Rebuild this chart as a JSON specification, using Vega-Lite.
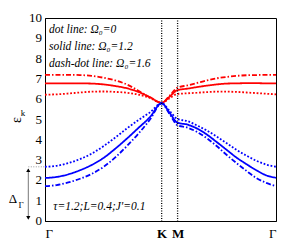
{
  "$schema": "https://vega.github.io/schema/vega-lite/v6.json",
  "width": 231,
  "height": 203,
  "autosize": {"type": "none"},
  "padding": {"left": 45, "top": 18, "right": 29, "bottom": 28},
  "config": {
    "view": {"stroke": "#000000", "strokeWidth": 1},
    "axis": {"grid": false, "domainColor": "#000000", "tickColor": "#000000", "labelColor": "#000000", "labelFont": "Liberation Serif", "titleFont": "Liberation Serif"}
  },
  "datasets": {
    "curves": [
      {"s":"u16","band":"up","om":"1.6","x":0,"y":7.2},{"s":"u16","band":"up","om":"1.6","x":0.0505,"y":7.2},{"s":"u16","band":"up","om":"1.6","x":0.101,"y":7.2},{"s":"u16","band":"up","om":"1.6","x":0.1515,"y":7.19},{"s":"u16","band":"up","om":"1.6","x":0.202,"y":7.15},{"s":"u16","band":"up","om":"1.6","x":0.2525,"y":7.06},{"s":"u16","band":"up","om":"1.6","x":0.303,"y":6.93},{"s":"u16","band":"up","om":"1.6","x":0.3535,"y":6.73},{"s":"u16","band":"up","om":"1.6","x":0.404,"y":6.42},{"s":"u16","band":"up","om":"1.6","x":0.4545,"y":6.08},{"s":"u16","band":"up","om":"1.6","x":0.505,"y":5.82},
      {"s":"u16","band":"up","om":"1.6","x":0.54,"y":6.18},
      {"s":"u16","band":"up","om":"1.6","x":0.574,"y":6.57},{"s":"u16","band":"up","om":"1.6","x":0.6166,"y":6.68},{"s":"u16","band":"up","om":"1.6","x":0.6592,"y":6.8},{"s":"u16","band":"up","om":"1.6","x":0.7018,"y":6.93},{"s":"u16","band":"up","om":"1.6","x":0.7444,"y":7.03},{"s":"u16","band":"up","om":"1.6","x":0.787,"y":7.1},{"s":"u16","band":"up","om":"1.6","x":0.8296,"y":7.15},{"s":"u16","band":"up","om":"1.6","x":0.8722,"y":7.18},{"s":"u16","band":"up","om":"1.6","x":0.9148,"y":7.19},{"s":"u16","band":"up","om":"1.6","x":0.9574,"y":7.2},{"s":"u16","band":"up","om":"1.6","x":1,"y":7.2},

      {"s":"u12","band":"up","om":"1.2","x":0,"y":6.78},{"s":"u12","band":"up","om":"1.2","x":0.0505,"y":6.78},{"s":"u12","band":"up","om":"1.2","x":0.101,"y":6.78},{"s":"u12","band":"up","om":"1.2","x":0.1515,"y":6.78},{"s":"u12","band":"up","om":"1.2","x":0.202,"y":6.77},{"s":"u12","band":"up","om":"1.2","x":0.2525,"y":6.73},{"s":"u12","band":"up","om":"1.2","x":0.303,"y":6.65},{"s":"u12","band":"up","om":"1.2","x":0.3535,"y":6.54},{"s":"u12","band":"up","om":"1.2","x":0.404,"y":6.36},{"s":"u12","band":"up","om":"1.2","x":0.4545,"y":6.1},{"s":"u12","band":"up","om":"1.2","x":0.505,"y":5.82},
      {"s":"u12","band":"up","om":"1.2","x":0.54,"y":6.13},
      {"s":"u12","band":"up","om":"1.2","x":0.574,"y":6.45},{"s":"u12","band":"up","om":"1.2","x":0.6166,"y":6.52},{"s":"u12","band":"up","om":"1.2","x":0.6592,"y":6.6},{"s":"u12","band":"up","om":"1.2","x":0.7018,"y":6.67},{"s":"u12","band":"up","om":"1.2","x":0.7444,"y":6.73},{"s":"u12","band":"up","om":"1.2","x":0.787,"y":6.77},{"s":"u12","band":"up","om":"1.2","x":0.8296,"y":6.78},{"s":"u12","band":"up","om":"1.2","x":0.8722,"y":6.79},{"s":"u12","band":"up","om":"1.2","x":0.9148,"y":6.79},{"s":"u12","band":"up","om":"1.2","x":0.9574,"y":6.78},{"s":"u12","band":"up","om":"1.2","x":1,"y":6.78},

      {"s":"u0","band":"up","om":"0","x":0,"y":6.22},{"s":"u0","band":"up","om":"0","x":0.0505,"y":6.24},{"s":"u0","band":"up","om":"0","x":0.101,"y":6.28},{"s":"u0","band":"up","om":"0","x":0.1515,"y":6.33},{"s":"u0","band":"up","om":"0","x":0.202,"y":6.37},{"s":"u0","band":"up","om":"0","x":0.2525,"y":6.38},{"s":"u0","band":"up","om":"0","x":0.303,"y":6.36},{"s":"u0","band":"up","om":"0","x":0.3535,"y":6.32},{"s":"u0","band":"up","om":"0","x":0.404,"y":6.23},{"s":"u0","band":"up","om":"0","x":0.4545,"y":6.06},{"s":"u0","band":"up","om":"0","x":0.505,"y":5.82},
      {"s":"u0","band":"up","om":"0","x":0.54,"y":6.05},
      {"s":"u0","band":"up","om":"0","x":0.574,"y":6.26},{"s":"u0","band":"up","om":"0","x":0.6166,"y":6.29},{"s":"u0","band":"up","om":"0","x":0.6592,"y":6.32},{"s":"u0","band":"up","om":"0","x":0.7018,"y":6.35},{"s":"u0","band":"up","om":"0","x":0.7444,"y":6.37},{"s":"u0","band":"up","om":"0","x":0.787,"y":6.37},{"s":"u0","band":"up","om":"0","x":0.8296,"y":6.36},{"s":"u0","band":"up","om":"0","x":0.8722,"y":6.33},{"s":"u0","band":"up","om":"0","x":0.9148,"y":6.3},{"s":"u0","band":"up","om":"0","x":0.9574,"y":6.27},{"s":"u0","band":"up","om":"0","x":1,"y":6.24},

      {"s":"l0","band":"lo","om":"0","x":0,"y":2.67},{"s":"l0","band":"lo","om":"0","x":0.0505,"y":2.72},{"s":"l0","band":"lo","om":"0","x":0.101,"y":2.85},{"s":"l0","band":"lo","om":"0","x":0.1515,"y":3.05},{"s":"l0","band":"lo","om":"0","x":0.202,"y":3.32},{"s":"l0","band":"lo","om":"0","x":0.2525,"y":3.68},{"s":"l0","band":"lo","om":"0","x":0.303,"y":4.1},{"s":"l0","band":"lo","om":"0","x":0.3535,"y":4.55},{"s":"l0","band":"lo","om":"0","x":0.404,"y":4.97},{"s":"l0","band":"lo","om":"0","x":0.4545,"y":5.35},{"s":"l0","band":"lo","om":"0","x":0.505,"y":5.8},
      {"s":"l0","band":"lo","om":"0","x":0.54,"y":5.42},
      {"s":"l0","band":"lo","om":"0","x":0.574,"y":5.02},{"s":"l0","band":"lo","om":"0","x":0.6166,"y":4.92},{"s":"l0","band":"lo","om":"0","x":0.6592,"y":4.7},{"s":"l0","band":"lo","om":"0","x":0.7018,"y":4.45},{"s":"l0","band":"lo","om":"0","x":0.7444,"y":4.15},{"s":"l0","band":"lo","om":"0","x":0.787,"y":3.83},{"s":"l0","band":"lo","om":"0","x":0.8296,"y":3.5},{"s":"l0","band":"lo","om":"0","x":0.8722,"y":3.22},{"s":"l0","band":"lo","om":"0","x":0.9148,"y":2.97},{"s":"l0","band":"lo","om":"0","x":0.9574,"y":2.78},{"s":"l0","band":"lo","om":"0","x":1,"y":2.67},

      {"s":"l12","band":"lo","om":"1.2","x":0,"y":2.12},{"s":"l12","band":"lo","om":"1.2","x":0.0505,"y":2.17},{"s":"l12","band":"lo","om":"1.2","x":0.101,"y":2.3},{"s":"l12","band":"lo","om":"1.2","x":0.1515,"y":2.5},{"s":"l12","band":"lo","om":"1.2","x":0.202,"y":2.76},{"s":"l12","band":"lo","om":"1.2","x":0.2525,"y":3.1},{"s":"l12","band":"lo","om":"1.2","x":0.303,"y":3.55},{"s":"l12","band":"lo","om":"1.2","x":0.3535,"y":4.05},{"s":"l12","band":"lo","om":"1.2","x":0.404,"y":4.58},{"s":"l12","band":"lo","om":"1.2","x":0.4545,"y":5.12},{"s":"l12","band":"lo","om":"1.2","x":0.505,"y":5.8},
      {"s":"l12","band":"lo","om":"1.2","x":0.54,"y":5.32},
      {"s":"l12","band":"lo","om":"1.2","x":0.574,"y":4.84},{"s":"l12","band":"lo","om":"1.2","x":0.6166,"y":4.75},{"s":"l12","band":"lo","om":"1.2","x":0.6592,"y":4.55},{"s":"l12","band":"lo","om":"1.2","x":0.7018,"y":4.25},{"s":"l12","band":"lo","om":"1.2","x":0.7444,"y":3.88},{"s":"l12","band":"lo","om":"1.2","x":0.787,"y":3.5},{"s":"l12","band":"lo","om":"1.2","x":0.8296,"y":3.12},{"s":"l12","band":"lo","om":"1.2","x":0.8722,"y":2.8},{"s":"l12","band":"lo","om":"1.2","x":0.9148,"y":2.5},{"s":"l12","band":"lo","om":"1.2","x":0.9574,"y":2.25},{"s":"l12","band":"lo","om":"1.2","x":1,"y":2.13},

      {"s":"l16","band":"lo","om":"1.6","x":0,"y":1.72},{"s":"l16","band":"lo","om":"1.6","x":0.0505,"y":1.77},{"s":"l16","band":"lo","om":"1.6","x":0.101,"y":1.9},{"s":"l16","band":"lo","om":"1.6","x":0.1515,"y":2.08},{"s":"l16","band":"lo","om":"1.6","x":0.202,"y":2.32},{"s":"l16","band":"lo","om":"1.6","x":0.2525,"y":2.66},{"s":"l16","band":"lo","om":"1.6","x":0.303,"y":3.12},{"s":"l16","band":"lo","om":"1.6","x":0.3535,"y":3.68},{"s":"l16","band":"lo","om":"1.6","x":0.404,"y":4.3},{"s":"l16","band":"lo","om":"1.6","x":0.4545,"y":5.0},{"s":"l16","band":"lo","om":"1.6","x":0.505,"y":5.8},
      {"s":"l16","band":"lo","om":"1.6","x":0.54,"y":5.25},
      {"s":"l16","band":"lo","om":"1.6","x":0.574,"y":4.71},{"s":"l16","band":"lo","om":"1.6","x":0.6166,"y":4.6},{"s":"l16","band":"lo","om":"1.6","x":0.6592,"y":4.38},{"s":"l16","band":"lo","om":"1.6","x":0.7018,"y":4.07},{"s":"l16","band":"lo","om":"1.6","x":0.7444,"y":3.68},{"s":"l16","band":"lo","om":"1.6","x":0.787,"y":3.25},{"s":"l16","band":"lo","om":"1.6","x":0.8296,"y":2.85},{"s":"l16","band":"lo","om":"1.6","x":0.8722,"y":2.47},{"s":"l16","band":"lo","om":"1.6","x":0.9148,"y":2.12},{"s":"l16","band":"lo","om":"1.6","x":0.9574,"y":1.88},{"s":"l16","band":"lo","om":"1.6","x":1,"y":1.72}
    ],
    "kpoints": [{"x": 0.505}, {"x": 0.574}],
    "ylabels": [
      {"v": 0, "t": "0"}, {"v": 1, "t": "1"}, {"v": 2, "t": "2"}, {"v": 3, "t": "3"}, {"v": 4, "t": "4"}, {"v": 5, "t": "5"},
      {"v": 6, "t": "6"}, {"v": 7, "t": "7"}, {"v": 8, "t": "8"}, {"v": 9, "t": "9"}, {"v": 10, "t": "10"}
    ],
    "notes": [
      {"tx": 0.0173, "ty": 9.26, "label": "dot line: Ω₀=0"},
      {"tx": 0.0173, "ty": 8.42, "label": "solid line: Ω₀=1.2"},
      {"tx": 0.0173, "ty": 7.6, "label": "dash-dot line: Ω₀=1.6"},
      {"tx": 0.036, "ty": 0.54, "label": "τ=1.2;L=0.4;J'=0.1"}
    ],
    "big": [{"tx": -0.1385, "ty": 1.08, "label": "Δ"}],
    "sub": [{"tx": -0.104, "ty": 0.79, "label": "Γ"}, {"tx": -0.095, "ty": 5.3, "label": "k"}],
    "arrow": [{"ax": -0.0723, "a0": 0.12, "a1": 2.55}],
    "heads": [{"ax": -0.0723, "ay": 2.5, "dir": "up"}, {"ax": -0.0723, "ay": 0.15, "dir": "down"}],
    "gap": [{"g0": -0.0723, "g1": 0, "gy": 2.67}]
  },
  "layer": [
    {
      "data": {"name": "curves"},
      "mark": {"type": "line", "strokeWidth": 1.8, "interpolate": "monotone"},
      "encoding": {
        "x": {"field": "x", "type": "quantitative", "scale": {"domain": [0, 1], "nice": false, "zero": false},
          "axis": {"title": null, "values": [0, 0.505, 0.574, 1], "ticks": false, "domain": true,
            "labelExpr": "datum.value < 0.1 ? 'Γ' : (datum.value < 0.55 ? 'K' : (datum.value < 0.9 ? 'M' : 'Γ'))",
            "labelFontSize": 13, "labelPadding": 6, "labelFontWeight": {"condition": {"test": "datum.value > 0.1 && datum.value < 0.9", "value": "bold"}, "value": "normal"}}},
        "y": {"field": "y", "type": "quantitative", "scale": {"domain": [0, 10], "nice": false, "zero": false},
          "axis": {"title": "ε", "titleAngle": 270, "titleFontSize": 14, "titleFontWeight": "normal", "titlePadding": 22, "titleColor": "#000000",
            "orient": "left", "values": [0,1,2,3,4,5,6,7,8,9,10], "labels": false, "ticks": false}},
        "color": {"field": "band", "type": "nominal", "scale": {"domain": ["up", "lo"], "range": ["#ff0000", "#0000ff"]}, "legend": null},
        "strokeDash": {"field": "om", "type": "nominal", "scale": {"domain": ["0", "1.2", "1.6"], "range": [[1.8, 1.8], [1, 0], [5, 2, 1.5, 2]]}, "legend": null},
        "detail": {"field": "s", "type": "nominal"}
      }
    },
    {
      "data": {"name": "ylabels"},
      "mark": {"type": "text", "font": "Liberation Serif", "fontSize": 13, "align": "right", "baseline": "middle", "color": "#000000"},
      "encoding": {
        "x": {"datum": -0.013, "type": "quantitative"},
        "y": {"field": "v", "type": "quantitative"},
        "text": {"field": "t"}
      }
    },
    {
      "data": {"name": "notes"},
      "mark": {"type": "text", "font": "Liberation Serif", "fontStyle": "italic", "fontSize": 11.5, "align": "left", "baseline": "alphabetic", "color": "#000000"},
      "encoding": {
        "x": {"field": "tx", "type": "quantitative"},
        "y": {"field": "ty", "type": "quantitative"},
        "text": {"field": "label"}
      }
    },
    {
      "data": {"name": "kpoints"},
      "mark": {"type": "rule", "color": "#000000", "strokeWidth": 1.3, "strokeDash": [1, 1.5]},
      "encoding": {"x": {"field": "x", "type": "quantitative"}}
    },
    {
      "data": {"name": "gap"},
      "mark": {"type": "rule", "color": "#999999", "strokeWidth": 1, "strokeDash": [1, 1.5]},
      "encoding": {
        "x": {"field": "g0", "type": "quantitative"},
        "x2": {"field": "g1"},
        "y": {"field": "gy", "type": "quantitative"}
      }
    },
    {
      "data": {"name": "arrow"},
      "mark": {"type": "rule", "color": "#777777", "strokeWidth": 1},
      "encoding": {
        "x": {"field": "ax", "type": "quantitative"},
        "y": {"field": "a0", "type": "quantitative"},
        "y2": {"field": "a1"}
      }
    },
    {
      "data": {"name": "heads"},
      "mark": {"type": "point", "filled": true, "color": "#000000", "size": 18, "opacity": 1},
      "encoding": {
        "x": {"field": "ax", "type": "quantitative"},
        "y": {"field": "ay", "type": "quantitative"},
        "shape": {"field": "dir", "type": "nominal", "scale": {"domain": ["up", "down"], "range": ["triangle-up", "triangle-down"]}, "legend": null}
      }
    },
    {
      "data": {"name": "big"},
      "mark": {"type": "text", "font": "Liberation Serif", "fontSize": 13, "align": "center", "baseline": "middle", "color": "#000000"},
      "encoding": {
        "x": {"field": "tx", "type": "quantitative"},
        "y": {"field": "ty", "type": "quantitative"},
        "text": {"field": "label"}
      }
    },
    {
      "data": {"name": "sub"},
      "mark": {"type": "text", "font": "Liberation Serif", "fontSize": 9, "align": "center", "baseline": "middle", "color": "#000000"},
      "encoding": {
        "x": {"field": "tx", "type": "quantitative"},
        "y": {"field": "ty", "type": "quantitative"},
        "text": {"field": "label"}
      }
    }
  ]
}
